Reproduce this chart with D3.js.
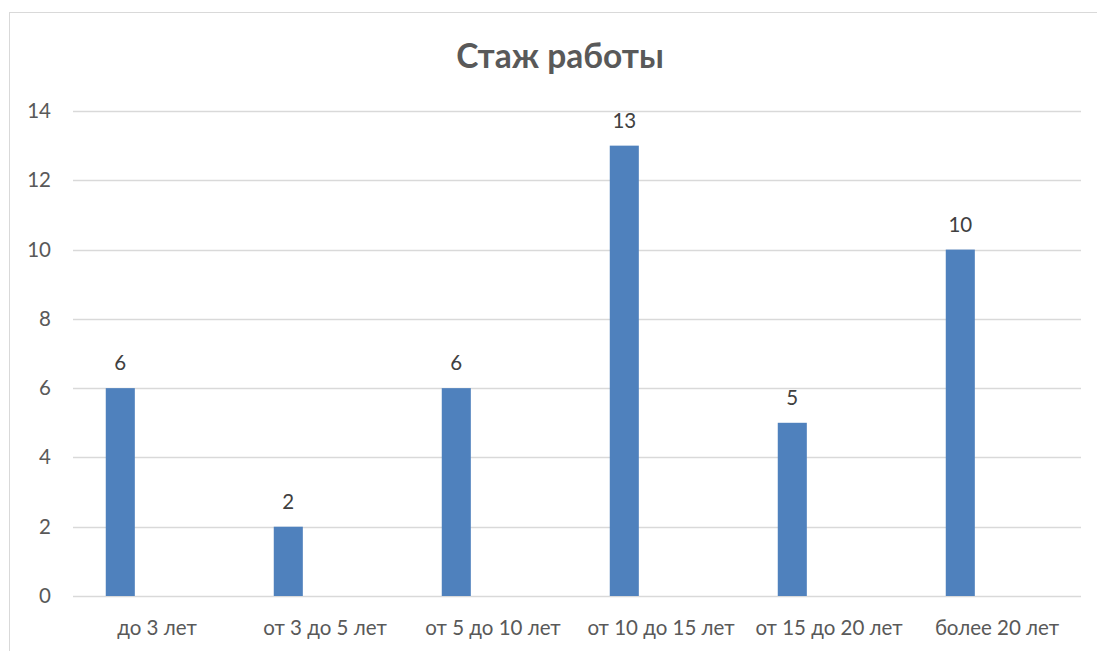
<!DOCTYPE html>
<html>
<head>
<meta charset="utf-8">
<script src="https://cdn.jsdelivr.net/npm/d3@7"></script>
<style>
    body { margin: 0; background: #fff; }
    svg { display: block; font-family: Lato, "Open Sans", sans-serif; }
</style>
</head>
<body>
<svg id="chart"></svg>
<script>
/*################
Data
################*/
const categories = ['до 3 лет', 'от 3 до 5 лет', 'от 5 до 10 лет', 'от 10 до 15 лет', 'от 15 до 20 лет', 'более 20 лет'];
const values = [6, 2, 6, 13, 5, 10];
const yTicks = [0, 2, 4, 6, 8, 10, 12, 14];
const title = 'Стаж работы';

/*################
Canvas
################*/
const width = 1097, height = 651;
const plot = { left: 73, right: 1081, top: 111, bottom: 596 };
const fontSize = 20.5;

const svg = d3.select('#chart')
    .attr('width', width)
    .attr('height', height);

// chart frame
svg.append('rect')
    .attr('x', 9.5)
    .attr('y', 12.5)
    .attr('width', 1110)
    .attr('height', 700)
    .attr('fill', 'none')
    .attr('stroke', '#d9d9d9');

svg.append('text')
    .attr('x', 560)
    .attr('y', 68)
    .attr('text-anchor', 'middle')
    .attr('font-size', 33.5)
    .attr('font-weight', 'bold')
    .attr('fill', '#595959')
    .text(title);

const x = d3.scaleBand()
    .domain(categories)
    .range([plot.left, plot.right]);

const y = d3.scaleLinear()
    .domain([0, 14])
    .range([plot.bottom, plot.top]);

// gridlines
svg.append('g')
    .selectAll('line')
    .data(yTicks)
    .enter()
    .append('line')
    .attr('x1', plot.left)
    .attr('x2', plot.right)
    .attr('y1', d => Math.round(y(d)) + 0.5)
    .attr('y2', d => Math.round(y(d)) + 0.5)
    .attr('stroke', '#d9d9d9')
    .attr('stroke-width', 1.3);

// y axis labels
const yAxis = d3.axisLeft(y).tickValues(yTicks).tickSize(0).tickPadding(0);
svg.append('g')
    .attr('transform', `translate(51,0)`)
    .call(yAxis)
    .call(g => g.select('.domain').remove())
    .call(g => g.selectAll('text')
        .attr('font-size', fontSize)
        .attr('font-family', 'Lato, "Open Sans", sans-serif')
        .attr('fill', '#595959'));

// x axis labels
const xAxis = d3.axisBottom(x).tickSize(0).tickPadding(0);
svg.append('g')
    .attr('transform', `translate(0,${plot.bottom})`)
    .call(xAxis)
    .call(g => g.select('.domain').remove())
    .call(g => g.selectAll('text')
        .attr('dy', null)
        .attr('y', 39)
        .attr('font-size', fontSize)
        .attr('font-family', 'Lato, "Open Sans", sans-serif')
        .attr('fill', '#595959'));

// bars sit left of the band centre, like the first series of a clustered column chart
const barOffset = 0.195, barWidth = 0.173;

svg.append('g')
    .selectAll('rect')
    .data(values)
    .enter()
    .append('rect')
    .attr('x', (d, i) => x(categories[i]) + x.bandwidth() * barOffset)
    .attr('y', d => y(d))
    .attr('width', x.bandwidth() * barWidth)
    .attr('height', d => y(0) - y(d))
    .attr('fill', '#4f81bd');

svg.append('g')
    .selectAll('text')
    .data(values)
    .enter()
    .append('text')
    .attr('x', (d, i) => x(categories[i]) + x.bandwidth() * (barOffset + barWidth / 2))
    .attr('y', d => y(d) - 18)
    .attr('text-anchor', 'middle')
    .attr('font-size', fontSize)
    .attr('fill', '#404040')
    .text(d => d);
</script>
</body>
</html>
